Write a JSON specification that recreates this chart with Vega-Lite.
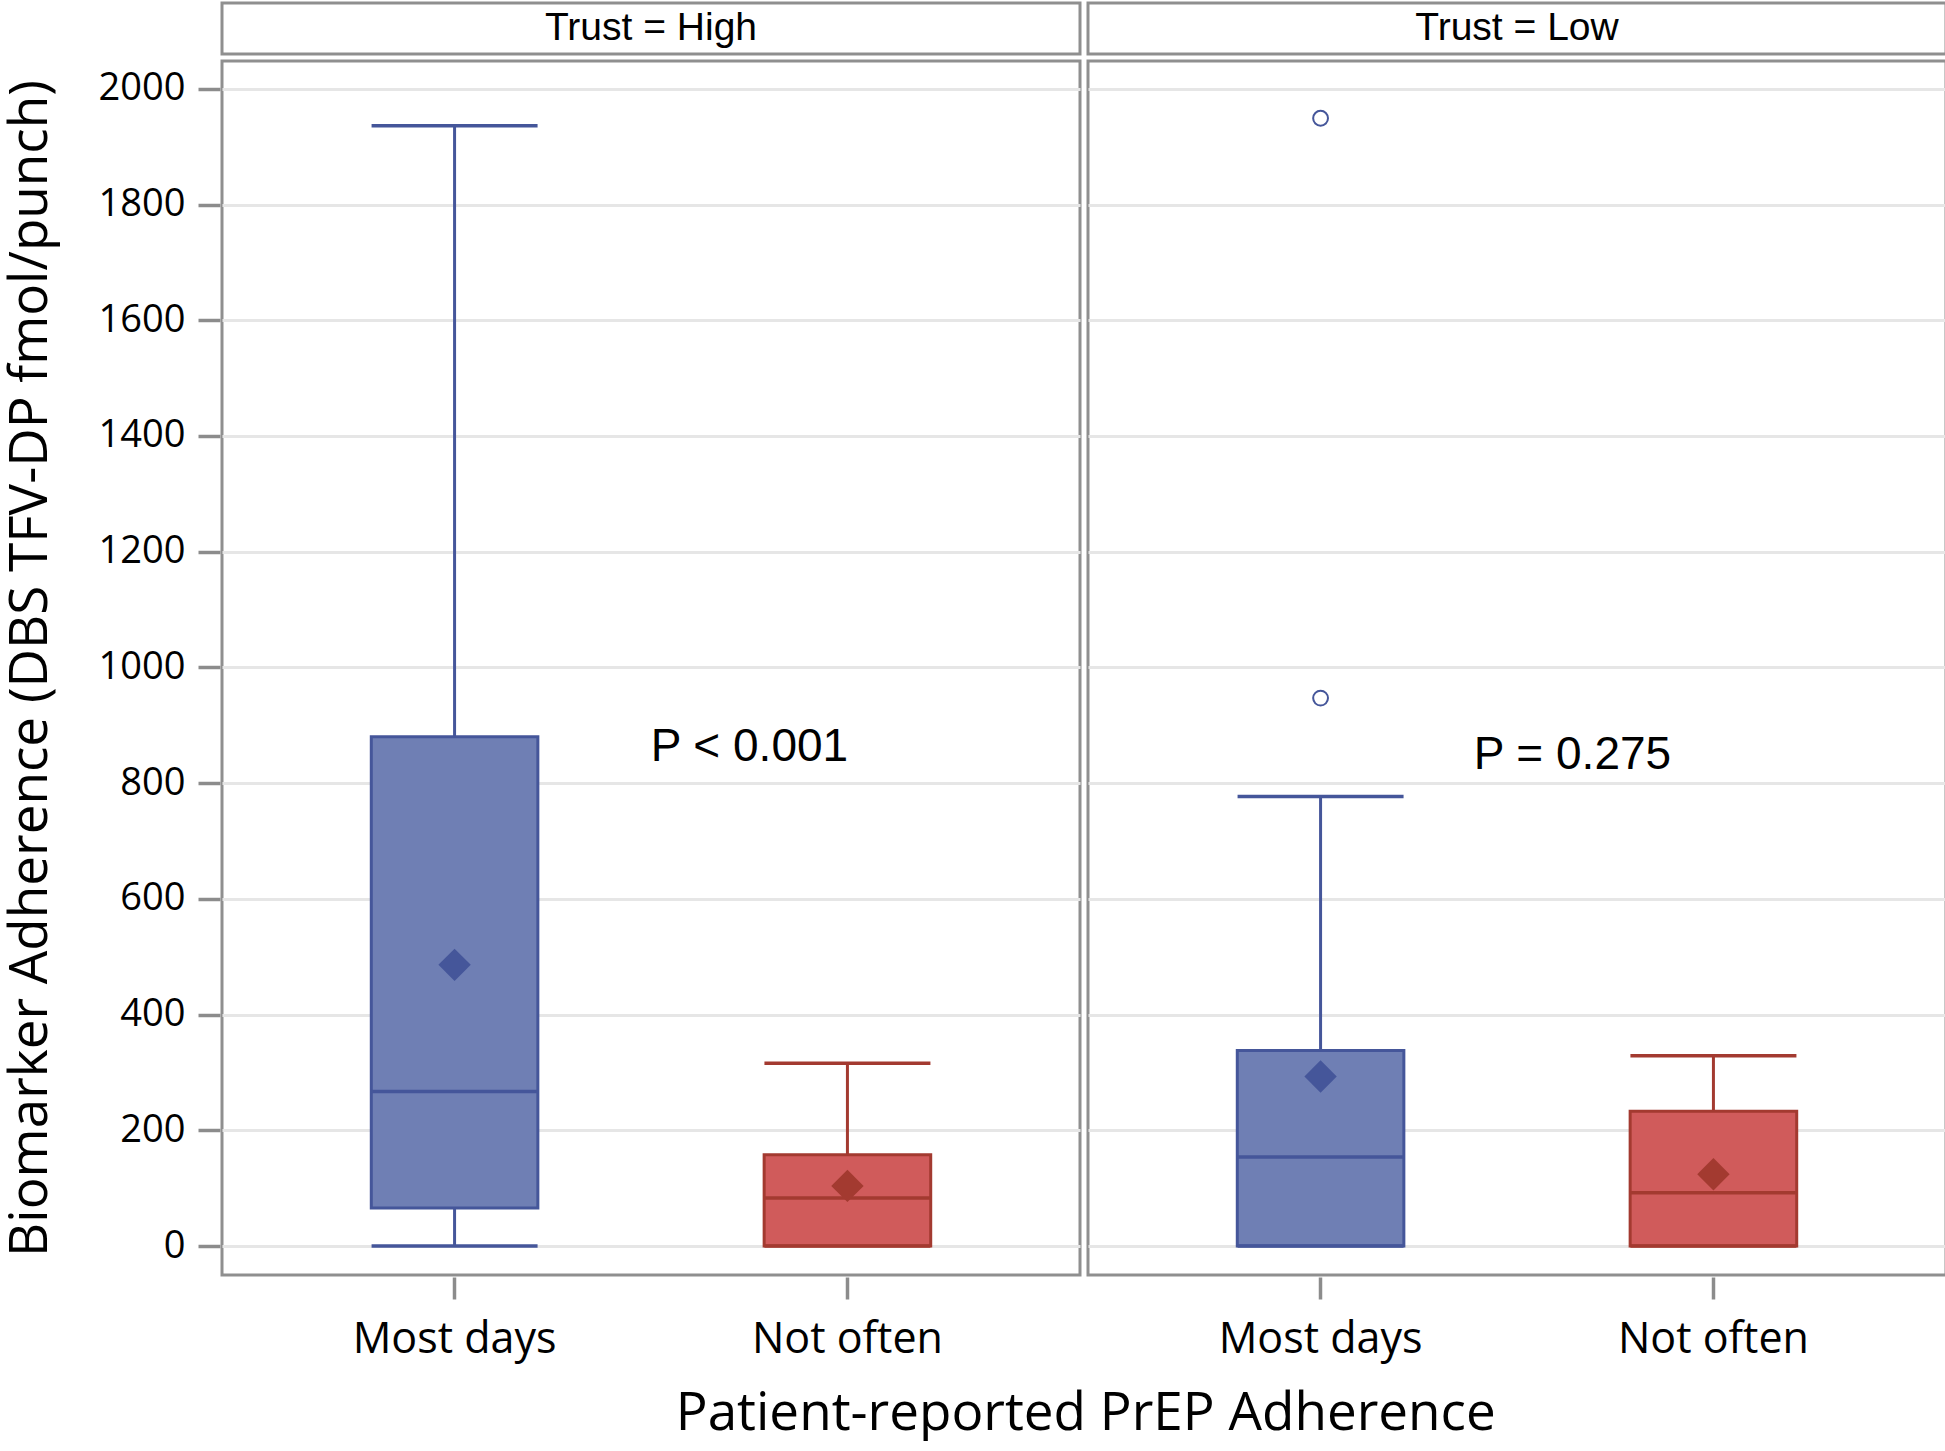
{
  "$schema": "https://vega.github.io/schema/vega-lite/v6.json",
  "padding": {"left": 4, "top": 1, "right": 0, "bottom": 0},
  "background": "white",
  "datasets": {
    "strips": [
      {"Trust": "High", "label": "Trust = High"},
      {"Trust": "Low", "label": "Trust = Low"}
    ],
    "main": [
      {"kind": "box", "Trust": "High", "Adherence": "Most days", "lower": 0, "q1": 66, "median": 267, "q3": 880, "upper": 1936, "mean": 486},
      {"kind": "box", "Trust": "High", "Adherence": "Not often", "lower": 0, "q1": 0, "median": 83, "q3": 158, "upper": 316, "mean": 104},
      {"kind": "box", "Trust": "Low", "Adherence": "Most days", "lower": 0, "q1": 0, "median": 154, "q3": 338, "upper": 777, "mean": 293},
      {"kind": "box", "Trust": "Low", "Adherence": "Not often", "lower": 0, "q1": 0, "median": 92, "q3": 233, "upper": 329, "mean": 124},
      {"kind": "out", "Trust": "Low", "Adherence": "Most days", "value": 1949},
      {"kind": "out", "Trust": "Low", "Adherence": "Most days", "value": 947},
      {"kind": "p", "Trust": "High", "label": "P < 0.001"},
      {"kind": "p", "Trust": "Low", "label": "P = 0.275"}
    ]
  },
  "title": {
    "text": "Patient-reported PrEP Adherence",
    "orient": "bottom",
    "anchor": "middle",
    "font": "Open Sans",
    "fontSize": 53,
    "fontWeight": "normal",
    "color": "black",
    "offset": 27,
    "dx": 110
  },
  "spacing": 3,
  "vconcat": [
    {
      "data": {"name": "strips"},
      "facet": {"column": {"field": "Trust", "type": "nominal", "header": {"labels": false, "title": null}}},
      "spacing": 4,
      "spec": {
        "width": 858,
        "height": 51,
        "mark": {"type": "text", "font": "Liberation Sans", "fontSize": 39, "color": "black", "baseline": "middle", "align": "center"},
        "encoding": {
          "text": {"field": "label"},
          "y": {
            "datum": 1000,
            "type": "quantitative",
            "scale": {"domain": [-50, 2048], "nice": false, "zero": false},
            "axis": {
              "values": [1000],
              "labels": false,
              "ticks": false,
              "domain": false,
              "grid": false,
              "minExtent": 125,
              "maxExtent": 125,
              "title": " ",
              "titleFont": "Open Sans",
              "titleFontSize": 53,
              "titleFontWeight": "normal",
              "titleColor": "black",
              "titlePadding": 38
            }
          }
        }
      }
    },
    {
      "data": {"name": "main"},
      "facet": {"column": {"field": "Trust", "type": "nominal", "header": {"labels": false, "title": null}}},
      "spacing": 4,
      "spec": {
        "width": 858,
        "height": 1214,
        "encoding": {
          "x": {
            "field": "Adherence",
            "type": "nominal",
            "scale": {"domain": ["Most days", "Not often"], "paddingInner": 0.576, "paddingOuter": 0.38},
            "axis": {
              "title": null,
              "labelAngle": 0,
              "labelLimit": 0,
              "labelFont": "Open Sans",
              "labelFontSize": 43,
              "labelColor": "black",
              "labelPadding": 19,
              "tickSize": 22,
              "tickWidth": 3.5,
              "tickColor": "#8C8C8C",
              "domain": false,
              "grid": false
            }
          }
        },
        "layer": [
          {
            "transform": [{"filter": "datum.kind == 'box'"}],
            "mark": {"type": "rule", "strokeWidth": 3},
            "encoding": {
              "y": {
                "field": "lower",
                "type": "quantitative",
                "scale": {"domain": [-50, 2048], "nice": false, "zero": false},
                "axis": {
                  "values": [0, 200, 400, 600, 800, 1000, 1200, 1400, 1600, 1800, 2000],
                  "format": "d",
                  "labelFont": "Open Sans",
                  "labelFontSize": 38,
                  "labelColor": "black",
                  "labelPadding": 13,
                  "tickSize": 22,
                  "tickWidth": 3.5,
                  "tickColor": "#8C8C8C",
                  "domain": false,
                  "grid": true,
                  "gridColor": "#E6E6E6",
                  "gridWidth": 3,
                  "minExtent": 125,
                  "maxExtent": 125,
                  "title": "Biomarker Adherence (DBS TFV-DP fmol/punch)",
                  "titleFont": "Open Sans",
                  "titleFontSize": 53,
                  "titleFontWeight": "normal",
                  "titleColor": "black",
                  "titlePadding": 38
                }
              },
              "y2": {"field": "upper"},
              "color": {"field": "Adherence", "type": "nominal", "scale": {"domain": ["Most days", "Not often"], "range": ["#45569A", "#A33A30"]}, "legend": null}
            }
          },
          {
            "transform": [{"filter": "datum.kind == 'box'"}],
            "mark": {"type": "bar", "strokeWidth": 3},
            "encoding": {
              "y": {"field": "q1", "type": "quantitative"},
              "y2": {"field": "q3"},
              "fill": {"field": "Adherence", "type": "nominal", "scale": {"domain": ["Most days", "Not often"], "range": ["#6F7FB4", "#D05B5B"]}, "legend": null},
              "stroke": {"field": "Adherence", "type": "nominal", "scale": {"domain": ["Most days", "Not often"], "range": ["#45569A", "#A33A30"]}, "legend": null}
            }
          },
          {
            "transform": [{"filter": "datum.kind == 'box'"}],
            "mark": {"type": "tick", "orient": "horizontal", "size": 166, "thickness": 3.5, "opacity": 1},
            "encoding": {
              "y": {"field": "median", "type": "quantitative"},
              "color": {"field": "Adherence", "type": "nominal", "legend": null}
            }
          },
          {
            "transform": [{"filter": "datum.kind == 'box'"}],
            "mark": {"type": "tick", "orient": "horizontal", "size": 166, "thickness": 3.5, "opacity": 1},
            "encoding": {
              "y": {"field": "upper", "type": "quantitative"},
              "color": {"field": "Adherence", "type": "nominal", "legend": null}
            }
          },
          {
            "transform": [{"filter": "datum.kind == 'box'"}],
            "mark": {"type": "tick", "orient": "horizontal", "size": 166, "thickness": 3.5, "opacity": 1},
            "encoding": {
              "y": {"field": "lower", "type": "quantitative"},
              "color": {"field": "Adherence", "type": "nominal", "legend": null}
            }
          },
          {
            "transform": [{"filter": "datum.kind == 'box'"}],
            "mark": {"type": "point", "shape": "diamond", "filled": true, "size": 1050, "opacity": 1},
            "encoding": {
              "y": {"field": "mean", "type": "quantitative"},
              "color": {"field": "Adherence", "type": "nominal", "legend": null}
            }
          },
          {
            "transform": [{"filter": "datum.kind == 'out'"}],
            "mark": {"type": "point", "shape": "circle", "filled": false, "size": 220, "strokeWidth": 2, "opacity": 1},
            "encoding": {
              "y": {"field": "value", "type": "quantitative"},
              "color": {"field": "Adherence", "type": "nominal", "legend": null}
            }
          },
          {
            "transform": [{"filter": "datum.kind == 'p' && datum.Trust == 'High'"}],
            "mark": {"type": "text", "font": "Liberation Sans", "fontSize": 46, "color": "black", "align": "center", "baseline": "middle", "dx": -98},
            "encoding": {
              "x": {"datum": "Not often", "type": "nominal"},
              "y": {"datum": 862, "type": "quantitative"},
              "text": {"field": "label"}
            }
          },
          {
            "transform": [{"filter": "datum.kind == 'p' && datum.Trust == 'Low'"}],
            "mark": {"type": "text", "font": "Liberation Sans", "fontSize": 46, "color": "black", "align": "center", "baseline": "middle", "dx": -141},
            "encoding": {
              "x": {"datum": "Not often", "type": "nominal"},
              "y": {"datum": 848, "type": "quantitative"},
              "text": {"field": "label"}
            }
          }
        ]
      }
    }
  ],
  "config": {
    "view": {"stroke": "#8F8F8F", "strokeWidth": 3},
    "font": "Open Sans"
  }
}
